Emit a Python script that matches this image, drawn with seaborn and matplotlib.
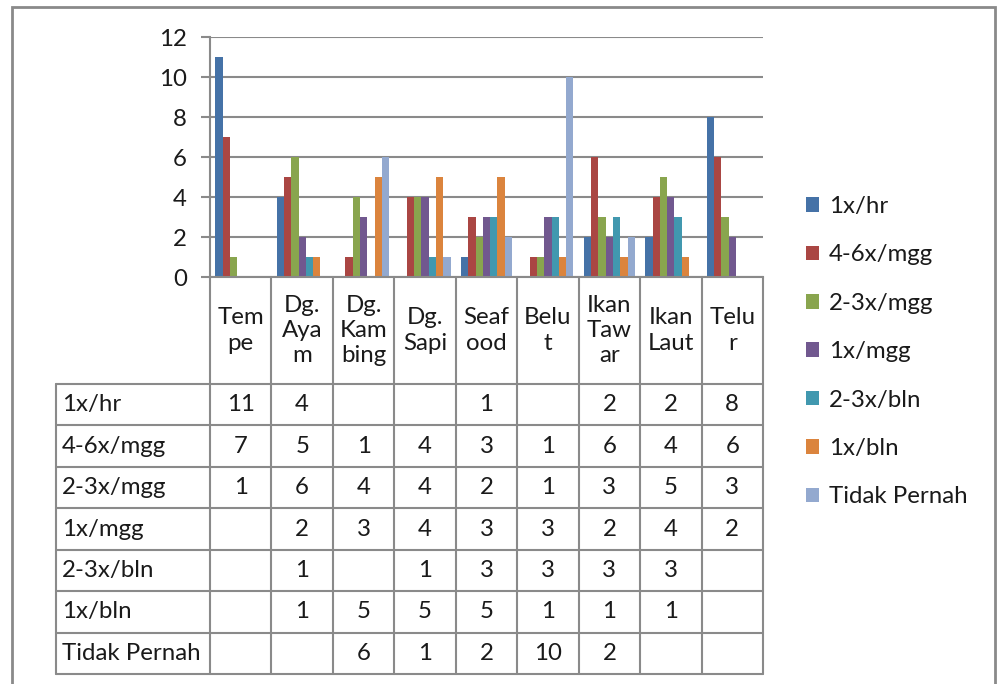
import numpy as np
import pandas as pd
import seaborn as sns
import matplotlib.pyplot as plt
from matplotlib.transforms import blended_transform_factory
from matplotlib.lines import Line2D
from matplotlib.patches import Rectangle

# --- data ---
kategori = ['Tempe', 'Dg. Ayam', 'Dg. Kambing', 'Dg. Sapi', 'Seafood',
            'Belut', 'Ikan Tawar', 'Ikan Laut', 'Telur']
# label kolom seperti di tabel Excel (terpotong per baris)
label_kolom = ['Tem\npe', 'Dg.\nAya\nm', 'Dg.\nKam\nbing', 'Dg.\nSapi', 'Seaf\nood',
               'Belu\nt', 'Ikan\nTaw\nar', 'Ikan\nLaut', 'Telu\nr']
frekuensi = ['1x/hr', '4-6x/mgg', '2-3x/mgg', '1x/mgg', '2-3x/bln', '1x/bln', 'Tidak Pernah']

satu_x_hr = [11, 4, None, None, 1, None, 2, 2, 8]
empat_enam_mgg = [7, 5, 1, 4, 3, 1, 6, 4, 6]
dua_tiga_mgg = [1, 6, 4, 4, 2, 1, 3, 5, 3]
satu_x_mgg = [None, 2, 3, 4, 3, 3, 2, 4, 2]
dua_tiga_bln = [None, 1, None, 1, 3, 3, 3, 3, None]
satu_x_bln = [None, 1, 5, 5, 5, 1, 1, 1, None]
tidak_pernah = [None, None, 6, 1, 2, 10, 2, None, None]

nilai = [satu_x_hr, empat_enam_mgg, dua_tiga_mgg, satu_x_mgg,
         dua_tiga_bln, satu_x_bln, tidak_pernah]

warna = ['#4572A7', '#AA4643', '#89A54E', '#71588F', '#4198AF', '#DB843D', '#93A9CF']
ABU = '#8a8a8a'
TEKS = '#1a1a1a'

# --- long format untuk seaborn ---
rows = []
for f, seri in zip(frekuensi, nilai):
    for k, v in zip(kategori, seri):
        rows.append({'kategori': k, 'frekuensi': f, 'jumlah': 0 if v is None else v})
df = pd.DataFrame(rows)

sns.set_style('white')
plt.rcParams['font.family'] = ['Lato', 'DejaVu Sans']
FS = 17.3

W, H = 1000, 684
fig = plt.figure(figsize=(W / 100, H / 100), dpi=100)


def fy(py):
    return 1 - py / H


ax = fig.add_axes([210 / W, fy(277), 553 / W, 240 / H])
sns.barplot(data=df, x='kategori', y='jumlah', hue='frekuensi', order=kategori,
            hue_order=frekuensi, palette=warna, width=0.83, saturation=1,
            errorbar=None, linewidth=0, ax=ax)

ax.set_xlim(-0.5, len(kategori) - 0.5)
ax.set_ylim(0, 12)
ax.set_yticks(range(0, 13, 2))
ax.yaxis.grid(True, color=ABU, linewidth=1.5)
ax.set_axisbelow(True)
ax.set_xticks([])
ax.set_xlabel('')
ax.set_ylabel('')
ax.tick_params(axis='y', length=6.5, width=1.5, color=ABU, pad=10, labelsize=FS,
               labelcolor=TEKS, left=True)
for s in ['top', 'right']:
    ax.spines[s].set_visible(False)
for s in ['left', 'bottom']:
    ax.spines[s].set_color(ABU)
    ax.spines[s].set_linewidth(1.5)

# legend
handles, labels = ax.get_legend_handles_labels()
ax.get_legend().remove()
fig.legend(handles, labels, loc='upper left', bbox_to_anchor=(806 / W, fy(196)),
           frameon=False, fontsize=FS, handlelength=0.55, handleheight=0.55,
           handletextpad=0.4, labelspacing=1.14, borderaxespad=0, borderpad=0,
           labelcolor=TEKS)

# --- tabel data di bawah grafik ---
tr = blended_transform_factory(ax.transData, fig.transFigure)
garis = dict(color=ABU, linewidth=1.5, clip_on=False)

y_header_bawah = 384
tinggi_baris = (674 - 384) / len(frekuensi)
y_baris = [y_header_bawah + i * tinggi_baris for i in range(len(frekuensi) + 1)]

# garis vertikal kolom kategori
for i in range(len(kategori) + 1):
    x = i - 0.5
    fig.add_artist(Line2D([x, x], [fy(277), fy(674)], transform=tr, **garis))
# garis horizontal baris
for yb in y_baris:
    fig.add_artist(Line2D([56 / W, 763 / W], [fy(yb), fy(yb)],
                          transform=fig.transFigure, **garis))
fig.add_artist(Line2D([56 / W, 56 / W], [fy(384), fy(674)],
                      transform=fig.transFigure, **garis))

# header kategori
for i, lab in enumerate(label_kolom):
    fig.text(i, fy((277 + 384) / 2), lab, transform=tr, ha='center', va='center',
             fontsize=FS, color=TEKS, linespacing=1.25)

# isi tabel
for r, (f, seri) in enumerate(zip(frekuensi, nilai)):
    yc = fy(y_baris[r] + tinggi_baris / 2)
    fig.text(62 / W, yc, f, ha='left', va='center', fontsize=FS, color=TEKS)
    for i, v in enumerate(seri):
        if v is not None:
            fig.text(i, yc, str(v), transform=tr, ha='center', va='center',
                     fontsize=FS, color=TEKS)

# bingkai luar chart
fig.add_artist(Rectangle((12 / W, -0.05), (995 - 12) / W, fy(7) + 0.05,
                         transform=fig.transFigure, fill=False,
                         edgecolor=ABU, linewidth=2))

plt.savefig('out.png', dpi=100)
